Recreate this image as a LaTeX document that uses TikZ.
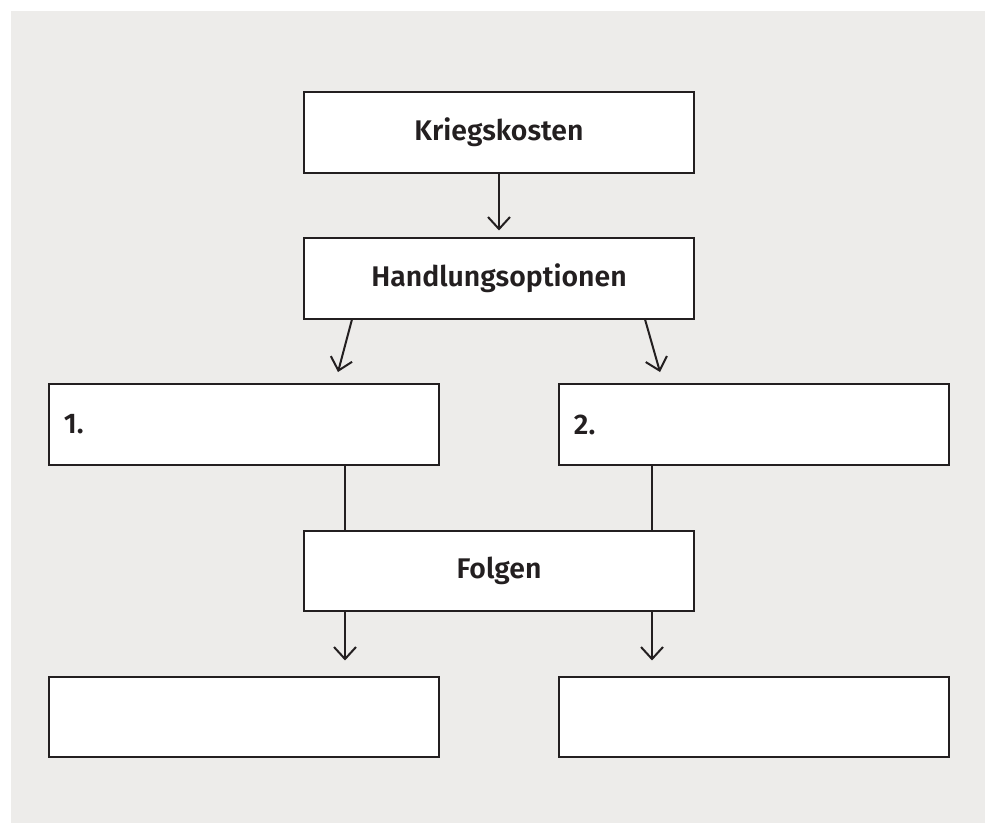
\documentclass[tikz,border=0pt]{standalone}
\usepackage{fontspec}
\setmainfont{Fira Sans}[BoldFont={Fira Sans SemiBold}]
\usetikzlibrary{arrows.meta,calc}
\definecolor{bggray}{RGB}{237,236,234}
\definecolor{ink}{RGB}{35,31,32}

\begin{document}
\begin{tikzpicture}[x=0.025cm,y=-0.025cm,
    kasten/.style={draw=ink, line width=0.05cm, fill=white, minimum width=9.75cm, minimum height=2cm, inner sep=0pt, text=ink, font=\fontsize{20.2}{24}\selectfont\bfseries},
    nummer/.style={kasten, text width=9cm, align=left, inner xsep=0.375cm},
    linie/.style={draw=ink, line width=0.05cm},
    pfeil/.style={linie, -{Straight Barb[length=0.3cm,width=0.55cm]}}]
    \useasboundingbox (0,0) rectangle (985,823);
    \fill[bggray] (11,11) rectangle (985,823);

    \node[kasten] at (499,132.5) (kosten) {Kriegskosten};
    \node[kasten] at (499,278.5) (optionen) {Handlungsoptionen};
    \node[nummer] at (244,424.5) (opt1) {1.};
    \node[nummer] at (754,424.5) (opt2) {2.};
    \node[kasten] at (499,570.5) (folgen) {Folgen};
    \node[kasten] at (244,716.5) (folge1) {};
    \node[kasten] at (754,716.5) (folge2) {};

    \coordinate (s1) at ($(optionen.south west)+(49,0)$);
    \coordinate (s2) at ($(optionen.south east)+(-50,0)$);
    \coordinate (e1) at (338,372);
    \coordinate (e2) at (660,372);
    \coordinate (l1) at (345,0);
    \coordinate (l2) at (652,0);

    \draw[pfeil, shorten >=0.175cm] (kosten.south) -- (optionen.north);
    \draw[pfeil] (s1) -- (e1);
    \draw[pfeil] (s2) -- (e2);
    \draw[linie] (opt1.south -| l1) -- (folgen.north -| l1);
    \draw[linie] (opt2.south -| l2) -- (folgen.north -| l2);
    \draw[pfeil, shorten >=0.375cm] (folgen.south -| l1) -- (folge1.north -| l1);
    \draw[pfeil, shorten >=0.375cm] (folgen.south -| l2) -- (folge2.north -| l2);
\end{tikzpicture}
\end{document}
